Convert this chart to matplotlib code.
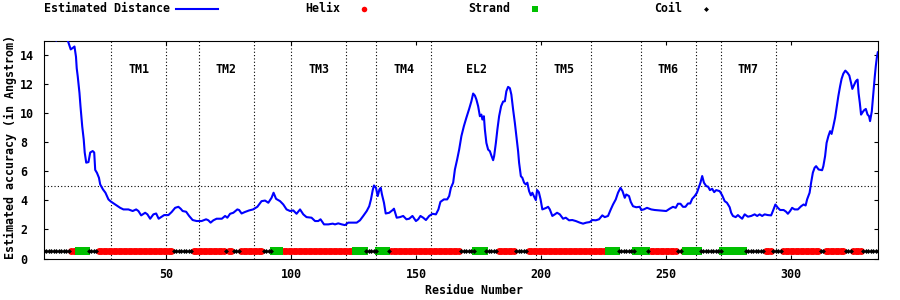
import matplotlib
matplotlib.use('Agg')
import matplotlib.pyplot as plt
from matplotlib.lines import Line2D

# ---------------- data ----------------
residue = [1, 3, 5, 5.9, 7, 9, 10.4, 11.2, 11.7, 12.5, 13.2, 13.8, 14.1, 14.5, 15.2, 15.6, 16.3, 16.9,
           17.3, 17.9, 18.8, 19.5, 20.5, 21.1, 21.5, 22.2, 23, 23.5, 24.6, 25.6, 26.8, 27.7, 29.5, 31.5,
           32.8, 34.8, 36.5, 37.9, 38.8, 39.9, 41.5, 42.4, 43.5, 44.8, 45.9, 46.9, 47.9, 49.1, 50.8, 52.1,
           53.5, 54.8, 55.7, 56.5, 57.9, 59.1, 60.5, 62.1, 64.1, 65.9, 66.8, 67.7, 68.8, 70.1, 72.2, 73.5,
           74.4, 75.5, 76.8, 78.4, 79.1, 80.1, 81.4, 83.1, 84.7, 86.4, 88.1, 89.5, 90.8, 92.1, 92.9, 93.9,
           95.5, 96.8, 98.1, 99.5, 100.8, 102.1, 103.5, 104.8, 106.1, 108.1, 109.5, 110.8, 111.7, 113.1,
           114.8, 116.6, 117.5, 118.8, 120.2, 121.5, 122.8, 124.8, 126.2, 127.5, 128.8, 130.2, 131.2,
           131.9, 132.6, 133.1, 133.9, 134.6, 135.3, 135.8, 136.3, 137.1, 137.8, 139.2, 140.6, 141.1,
           142.2, 143.5, 144.8, 146.1, 147.2, 148.5, 149.9, 150.8, 151.7, 152.8, 153.9, 155.2, 156.5,
           157.9, 158.9, 159.7, 161.1, 162.4, 163.2, 163.9, 164.8, 165.5, 166.4, 167.2, 168.1, 169.1,
           170.1, 171.2, 172.1, 172.8, 173.5, 174.1, 174.8, 175.5, 176.1, 176.5, 177.1, 177.5, 178.1,
           178.8, 179.5, 180.1, 180.8, 181.2, 181.9, 182.5, 183.2, 184.0, 184.8, 185.5, 186.1, 186.8,
           187.5, 188.1, 188.8, 189.5, 190.1, 190.8, 191.2, 191.9, 192.5, 193.2, 193.9, 194.5, 195.2,
           195.9, 196.5, 197.1, 197.9, 198.4, 199.1, 199.8, 200.5, 201.2, 202.1, 202.8, 203.5, 204.5,
           205.5, 206.4, 207.5, 208.8, 209.9, 211.2, 212.5, 213.9, 215.5, 216.8, 218.1, 219.5, 220.5,
           221.9, 223.2, 224.5, 225.5, 226.8, 227.9, 228.8, 229.9, 230.8, 231.8, 232.6, 233.5, 234.1,
           235.2, 235.9, 236.8, 238.1, 239.5, 240.1, 241.1, 242.4, 244.1, 245.5, 247.5, 250.1, 251.5,
           252.8, 253.9, 254.8, 255.8, 256.8, 257.8, 258.8, 259.7, 260.5, 261.5, 262.4, 263.2, 263.8,
           264.5, 265.2, 266.1, 266.9, 267.6, 268.5, 269.3, 270.1, 271.5, 272.5, 273.5, 274.4, 275.5,
           276.1, 276.8, 277.9, 278.8, 279.7, 280.5, 281.5, 282.8, 284.1, 285.5, 286.5, 287.5, 288.5,
           289.5, 290.8, 292.1, 292.8, 293.8, 294.8, 295.7, 297.1, 298.1, 298.8, 299.7, 300.5, 301.5,
           302.8, 304.1, 305.1, 305.9, 306.5, 307.5, 308.1, 308.8, 309.5, 310.1, 311.1, 312.5, 313.0,
           313.7, 314.3, 315.0, 315.7, 316.3, 317.0, 317.7, 318.3, 319.0, 319.7, 320.3, 321.0, 321.8,
           322.7, 323.4, 324.1, 324.6, 325.4, 326.0, 326.7, 327.1, 327.6, 328.1, 328.7, 329.3, 330.0,
           330.7, 331.3, 331.7, 332.4, 332.9, 333.6, 334.0, 334.4, 334.8]
distance = [17.8, 16.6, 15.6, 15.0, 15.6, 15.5, 15.07, 14.66, 14.4, 14.5, 14.6, 13.9, 13.1, 12.55, 11.4,
            10.5, 9.1, 8.2, 7.3, 6.6, 6.64, 7.3, 7.4, 7.3, 6.1, 5.9, 5.56, 5.1, 4.76, 4.53, 4.07, 3.93,
            3.72, 3.49, 3.38, 3.38, 3.27, 3.38, 3.27, 2.97, 3.15, 3.04, 2.74, 3.04, 3.1, 2.74, 2.85, 2.99,
            2.99, 3.2, 3.49, 3.56, 3.43, 3.27, 3.22, 2.93, 2.65, 2.58, 2.58, 2.7, 2.63, 2.47, 2.63, 2.74,
            2.74, 2.93, 2.81, 3.08, 3.15, 3.38, 3.34, 3.1, 3.2, 3.31, 3.38, 3.56, 3.95, 3.99, 3.84, 4.18,
            4.53, 4.11, 3.95, 3.72, 3.38, 3.27, 3.31, 3.08, 3.38, 3.04, 2.85, 2.81, 2.58, 2.58, 2.7, 2.35,
            2.35, 2.4, 2.35, 2.42, 2.35, 2.3, 2.47, 2.47, 2.47, 2.63, 2.93, 3.27, 3.6, 4.07, 4.71, 5.03,
            4.87, 4.3, 4.76, 4.87, 4.41, 3.84, 3.1, 3.15, 3.34, 3.43, 2.81, 2.85, 2.93, 2.7, 2.74, 2.93,
            2.58, 2.7, 2.93, 2.81, 2.65, 2.93, 3.08, 3.04, 3.38, 3.9, 4.07, 4.07, 4.3, 4.87, 5.22, 6.13,
            6.82, 7.5, 8.43, 9.12, 9.7, 10.3, 10.83, 11.36, 11.22, 10.95, 10.49, 9.8, 9.91, 9.57, 9.8,
            8.88, 7.96, 7.5, 7.39, 7.09, 6.77, 7.05, 7.96, 8.88, 9.8, 10.49, 10.81, 10.83, 11.52, 11.82,
            11.73, 11.29, 10.26, 9.34, 8.42, 7.39, 6.59, 5.67, 5.56, 5.22, 5.1, 5.22, 4.64, 4.35, 4.53,
            4.3, 4.02, 4.71, 4.57, 4.07, 3.38, 3.43, 3.49, 3.56, 3.38, 2.93, 3.04, 3.15, 3.04, 2.74, 2.81,
            2.63, 2.65, 2.58, 2.47, 2.4, 2.47, 2.51, 2.65, 2.63, 2.7, 2.97, 2.85, 2.93, 3.38, 3.72, 4.07,
            4.53, 4.87, 4.64, 4.18, 4.41, 4.3, 3.9, 3.6, 3.53, 3.56, 3.34, 3.38, 3.49, 3.38, 3.34, 3.31,
            3.27, 3.43, 3.56, 3.49, 3.77, 3.77, 3.56, 3.56, 3.79, 3.79, 4.11, 4.3, 4.53, 4.92, 5.22, 5.68,
            5.22, 4.99, 4.94, 4.71, 4.8, 4.57, 4.71, 4.64, 4.35, 3.95, 3.84, 3.53, 3.15, 2.93, 2.85, 2.99,
            2.85, 2.74, 3.04, 2.88, 2.93, 3.04, 2.93, 3.04, 2.93, 3.04, 2.99, 2.97, 3.27, 3.72, 3.49, 3.34,
            3.34, 3.22, 3.08, 3.27, 3.49, 3.38, 3.38, 3.6, 3.72, 3.65, 4.07, 4.53, 5.22, 5.91, 6.25, 6.36,
            6.13, 6.08, 6.36, 7.05, 7.96, 8.42, 8.77, 8.58, 9.11, 9.69, 10.38, 11.18, 11.86, 12.37, 12.73,
            12.94, 12.78, 12.6, 12.09, 11.68, 11.98, 12.21, 12.32, 11.4, 10.72, 9.91, 10.07, 10.21, 10.3,
            9.91, 9.8, 9.46, 10.14, 11.18, 12.55, 13.25, 13.82, 14.2]

# secondary structure segments: (type, first residue, last residue)
ss_segments = [("C", 1, 11), ("H", 12, 14), ("E", 15, 18), ("C", 19, 22), ("H", 23, 52),
               ("C", 53, 60), ("H", 61, 73), ("C", 74, 74), ("H", 75, 76), ("C", 77, 79),
               ("H", 80, 88), ("C", 89, 92), ("E", 93, 95), ("H", 96, 125), ("E", 126, 129),
               ("C", 130, 134), ("E", 135, 138), ("C", 139, 139), ("H", 140, 167), ("C", 168, 173),
               ("E", 174, 177), ("C", 178, 182), ("H", 183, 189), ("C", 190, 194), ("H", 195, 226),
               ("E", 227, 230), ("C", 231, 237), ("E", 238, 242), ("C", 243, 243), ("H", 244, 254),
               ("C", 255, 256), ("H", 257, 257), ("E", 258, 263), ("C", 264, 272), ("E", 273, 281),
               ("C", 282, 289), ("H", 290, 292), ("C", 293, 296), ("H", 297, 311), ("C", 312, 313),
               ("H", 314, 321), ("C", 322, 324), ("H", 325, 328), ("C", 329, 335)]

region_bounds = [28, 50, 63, 85, 100, 122, 134, 156, 198, 220, 240, 262, 272, 294]
region_labels = ["TM1", "TM2", "TM3", "TM4", "EL2", "TM5", "TM6", "TM7"]
region_label_x = [39, 74, 111, 145, 174, 209, 251, 283]
threshold = 5

x_ticks = [50, 100, 150, 200, 250, 300]
y_ticks = [0, 2, 4, 6, 8, 10, 12, 14]

# ---------------- style ----------------
plt.rcParams['font.family'] = ['DejaVu Sans Mono']
plt.rcParams['font.weight'] = 'bold'
plt.rcParams['font.size'] = 8.4
FS = 8.4

BLUE = '#0000ff'
RED = '#ff0000'
GREEN = '#00c000'
BLACK = '#000000'

W, H = 900, 300
fig = plt.figure(figsize=(9, 3), dpi=100)
L, R, T, B = 44, 878.3, 40.7, 258.5
ax = fig.add_axes([L / W, 1 - B / H, (R - L) / W, (B - T) / H])
ax.set_xlim(1, 335)
ax.set_ylim(0, 15)

dot = (0, (1, 2))
for b in region_bounds:
    ax.axvline(b, color=BLACK, lw=0.8, ls=dot, zorder=1)
ax.axhline(threshold, color=BLACK, lw=0.8, ls=dot, zorder=1)

for lab, xl in zip(region_labels, region_label_x):
    ax.text(xl, 13, lab, ha='center', va='center', fontsize=FS, fontweight='bold')

ax.plot(residue, distance, color=BLUE, lw=1.5, zorder=3)

# secondary structure track
styles = {"H": dict(marker='o', ms=5.0, color=RED),
          "E": dict(marker='s', ms=5.2, color=GREEN),
          "C": dict(marker='D', ms=2.5, color=BLACK)}
for t in ["H", "E", "C"]:
    xs = []
    for typ, a, b in ss_segments:
        if typ == t:
            xs.extend(range(a, b + 1))
    ax.plot(xs, [0.5] * len(xs), ls='none', markeredgewidth=0, zorder=4, **styles[t])

ax.set_xticks(x_ticks)
ax.set_xticklabels([str(v) for v in x_ticks])
ax.set_yticks(y_ticks)
ax.set_yticklabels([str(v) for v in y_ticks], ha='left')
ax.tick_params(axis='both', direction='in', top=True, right=True, length=3, width=0.8)
ax.tick_params(axis='x', pad=7.0)
ax.tick_params(axis='y', pad=17.3)
for s in ax.spines.values():
    s.set_linewidth(0.8)

fig.text(10.5 / W, 1 - 147 / H, 'Estimated accuracy (in Angstrom)', rotation=90,
         ha='center', va='center', fontsize=FS)
fig.text(474 / W, 1 - 291 / H, 'Residue Number', ha='center', va='center', fontsize=FS)

# legend row
ly = 1 - 9 / H
fig.text(170 / W, ly, 'Estimated Distance', ha='right', va='center')
fig.add_artist(Line2D([176 / W, 218 / W], [1 - 8.5 / H] * 2, color=BLUE, lw=1.5))
fig.text(340 / W, ly, 'Helix', ha='right', va='center')
fig.add_artist(Line2D([364 / W], [ly], marker='o', ms=4.0, color=RED, ls='none', markeredgewidth=0))
fig.text(510 / W, ly, 'Strand', ha='right', va='center')
fig.add_artist(Line2D([535 / W], [ly], marker='s', ms=5.0, color=GREEN, ls='none', markeredgewidth=0))
fig.text(682 / W, ly, 'Coil', ha='right', va='center')
fig.add_artist(Line2D([706 / W], [ly], marker='D', ms=2.5, color=BLACK, ls='none', markeredgewidth=0))

fig.savefig('out.png', dpi=100)
